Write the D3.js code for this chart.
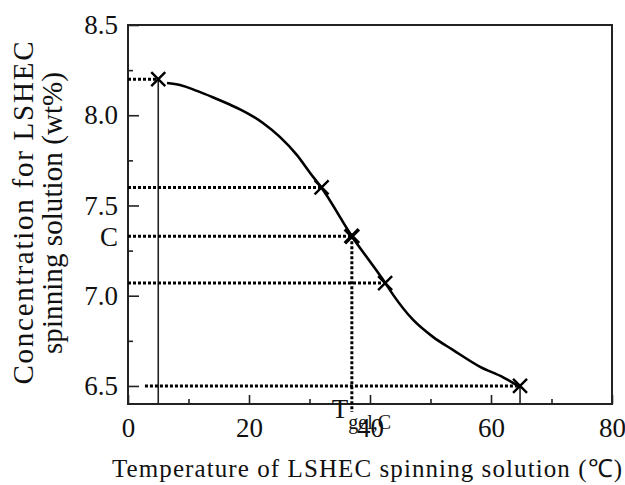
<!DOCTYPE html>
<html>
<head>
<meta charset="utf-8">
<script src="https://cdn.jsdelivr.net/npm/d3@7"></script>
<style>
  html, body { margin: 0; padding: 0; background: #fff; }
  svg { display: block; }
</style>
</head>
<body>
<svg id="chart" width="625" height="485"></svg>
<script>
// Gelation curve of the LSHEC spinning solution
const curveTemp = [6.45, 8.6, 11.4, 14.0, 16.9, 19.7, 22.3, 25.1, 27.9, 30.1, 31.9, 37, 42.5, 43.8, 47.1, 50.4, 53.7, 58.2, 62.0, 64.8];
const curveConc = [8.179, 8.168, 8.135, 8.100, 8.058, 8.012, 7.957, 7.880, 7.780, 7.680, 7.602, 7.33, 7.072, 7.006, 6.867, 6.772, 6.700, 6.606, 6.548, 6.494];

// Measured points (× markers)
const pointTemp = [5, 32, 37, 42.5, 64.8];
const pointConc = [8.2, 7.6, 7.33, 7.07, 6.5];

// Where each horizontal reading line starts (temperature)
const guideStart = [0, 0, 0, 0, 2.8];

// Gel point for concentration C
const gelTemp = 37;
const gelConc = 7.33;

const xMajor = [0, 20, 40, 60, 80];
const xMinor = [10, 30, 50, 70];
const yMajor = [6.5, 7.0, 7.5, 8.0, 8.5];
const yMinor = [6.75, 7.25, 7.75, 8.25];

const FONT = "'Liberation Serif', 'Times New Roman', serif";
const INK = "#111";

const svg = d3.select("#chart");
const plotLeft = 128, plotRight = 612, plotTop = 25, plotBottom = 404;

const x = d3.scaleLinear().domain([0, 80]).range([plotLeft, plotRight]);
const y = d3.scaleLinear().domain([6.4, 8.5]).range([plotBottom, plotTop]);

// Axes with inward ticks
const gx = svg.append("g").attr("transform", `translate(0,${plotBottom})`)
  .call(d3.axisBottom(x).tickValues(xMajor).tickSize(-9).tickPadding(14).tickFormat(d3.format("d")));
const gxm = svg.append("g").attr("transform", `translate(0,${plotBottom})`)
  .call(d3.axisBottom(x).tickValues(xMinor).tickSize(-5).tickFormat(""));
const gy = svg.append("g").attr("transform", `translate(${plotLeft},0)`)
  .call(d3.axisLeft(y).tickValues(yMajor).tickSize(-11).tickPadding(10).tickFormat(d3.format(".1f")));
const gym = svg.append("g").attr("transform", `translate(${plotLeft},0)`)
  .call(d3.axisLeft(y).tickValues(yMinor).tickSize(-5).tickFormat(""));

[gx, gxm, gy, gym].forEach(g => {
  g.select(".domain").remove();
  g.selectAll(".tick line").attr("stroke", "#222").attr("stroke-width", 1.6);
  g.selectAll("text").style("font-family", FONT).attr("font-size", 27).attr("fill", INK);
});

// "C" label on the concentration axis
svg.append("text")
  .attr("x", plotLeft - 10).attr("y", y(gelConc)).attr("dy", "0.35em")
  .attr("text-anchor", "end").attr("font-size", 27)
  .style("font-family", FONT).attr("fill", INK).text("C");

// Plot frame
svg.append("rect")
  .attr("x", plotLeft).attr("y", plotTop).attr("width", plotRight - plotLeft).attr("height", plotBottom - plotTop)
  .attr("fill", "none").attr("stroke", "#222").attr("stroke-width", 2);

// Solid drop lines from the end points to the temperature axis
const drops = [0, pointTemp.length - 1];
svg.append("g").selectAll("line").data(drops).join("line")
  .attr("x1", i => x(pointTemp[i])).attr("x2", i => x(pointTemp[i]))
  .attr("y1", i => y(pointConc[i])).attr("y2", y(6.4))
  .attr("stroke", "#222").attr("stroke-width", 1.6);

// Dotted reading lines
const dot = { stroke: "#000", width: 3, dash: "3,2" };
svg.append("g").selectAll("line").data(d3.range(pointTemp.length)).join("line")
  .attr("x1", i => x(guideStart[i])).attr("x2", i => x(pointTemp[i]))
  .attr("y1", i => y(pointConc[i])).attr("y2", i => y(pointConc[i]))
  .attr("stroke", dot.stroke).attr("stroke-width", dot.width).attr("stroke-dasharray", dot.dash);
svg.append("line")
  .attr("x1", x(gelTemp)).attr("x2", x(gelTemp))
  .attr("y1", y(gelConc)).attr("y2", y(6.355))
  .attr("stroke", dot.stroke).attr("stroke-width", dot.width).attr("stroke-dasharray", dot.dash);

// Fitted curve
const line = d3.line().x(i => x(curveTemp[i])).y(i => y(curveConc[i])).curve(d3.curveMonotoneX);
svg.append("path")
  .attr("d", line(d3.range(curveTemp.length)))
  .attr("fill", "none").attr("stroke", "#000").attr("stroke-width", 2.6).attr("stroke-linejoin", "round");

// × markers
const s = 7;
svg.append("g").selectAll("path").data(d3.range(pointTemp.length)).join("path")
  .attr("d", i => {
    const cx = x(pointTemp[i]), cy = y(pointConc[i]);
    return `M${cx - s},${cy - s}L${cx + s},${cy + s}M${cx - s},${cy + s}L${cx + s},${cy - s}`;
  })
  .attr("stroke", "#000").attr("stroke-width", i => pointConc[i] === gelConc ? 3.6 : 2.4).attr("fill", "none");

// T_gel,C label
const tl = svg.append("text").attr("x", x(gelTemp) - 20).attr("y", 418).attr("font-size", 27)
  .style("font-family", FONT).attr("fill", INK);
tl.append("tspan").text("T");
tl.append("tspan").attr("font-size", 20).attr("dy", 11).text("gel,C");

// Axis titles
svg.append("text")
  .attr("x", 112).attr("y", 477).attr("font-size", 25)
  .style("font-family", FONT).attr("fill", INK)
  .attr("textLength", 510).attr("lengthAdjust", "spacing")
  .text("Temperature of LSHEC spinning solution (\u2103)");

const yt = svg.append("g").attr("transform", "translate(0,213) rotate(-90)");
yt.append("text").attr("x", 0).attr("y", 33).attr("text-anchor", "middle").attr("font-size", 29)
  .style("font-family", FONT).attr("fill", INK)
  .attr("textLength", 343).attr("lengthAdjust", "spacing")
  .text("Concentration for LSHEC");
yt.append("text").attr("x", 0).attr("y", 62).attr("text-anchor", "middle").attr("font-size", 29)
  .style("font-family", FONT).attr("fill", INK)
  .attr("textLength", 282).attr("lengthAdjust", "spacing")
  .text("spinning solution (wt%)");
</script>
</body>
</html>
